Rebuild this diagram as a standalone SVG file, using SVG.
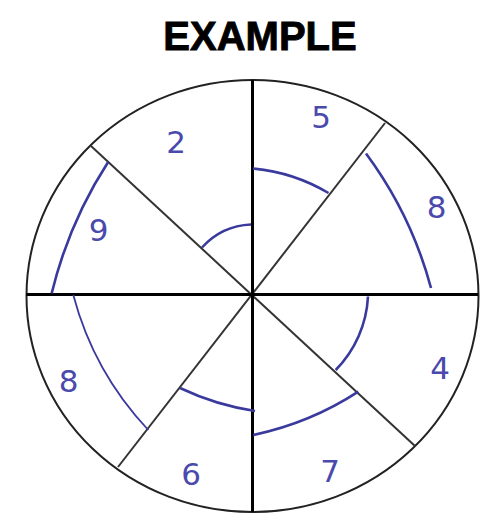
<svg xmlns="http://www.w3.org/2000/svg" width="489" height="514" viewBox="0 0 489 514">
  <style>
    .title { font-family: "Liberation Sans", Arial, sans-serif; font-weight: bold; font-size: 40px; fill: #000; stroke: #000; stroke-width: 0.9; text-anchor: middle; }
    .num { font-family: "DejaVu Sans", Verdana, sans-serif; font-size: 31px; fill: #4a4aac; text-anchor: middle; }
    .arc { fill: none; stroke: #3a3a9e; stroke-width: 2.6; stroke-linecap: butt; }
    .thin { stroke-width: 1.8; }
    .axis { stroke: #000; stroke-width: 3; }
    .diag { stroke: #333; stroke-width: 2; }
    .rim { fill: none; stroke: #222; stroke-width: 2; }
  </style>
  <rect width="489" height="514" fill="#fff"/>
  <text class="title" x="260" y="50">EXAMPLE</text>

  <g id="connectors">
    <ellipse class="rim" cx="252.5" cy="296" rx="226" ry="216"/>
    <line class="diag" x1="91" y1="146" x2="415" y2="446"/>
    <line class="diag" x1="385" y1="123" x2="118" y2="467"/>
    <line class="axis" x1="26.5" y1="294.5" x2="478" y2="294.5"/>
    <line class="axis" x1="252.5" y1="80" x2="252.5" y2="512"/>
  </g>

  <g id="sector-5">
    <path class="arc" d="M253,168.5 Q293.5,172.2 328.5,193"/>
    <text class="num" x="321" y="128">5</text>
  </g>
  <g id="sector-8-right">
    <path class="arc" d="M366,153.5 Q411.3,214.6 431,288"/>
    <text class="num" x="436.5" y="218">8</text>
  </g>
  <g id="sector-4">
    <path class="arc" d="M368,296.5 A113,113 0 0 1 335.7,370"/>
    <text class="num" x="440" y="379">4</text>
  </g>
  <g id="sector-7">
    <path class="arc" d="M358.3,391.7 Q309.9,423.2 253.3,435"/>
    <text class="num" x="330" y="482">7</text>
  </g>
  <g id="sector-6">
    <path class="arc" d="M255,411 Q215.8,405 180,388"/>
    <text class="num" x="191" y="485">6</text>
  </g>
  <g id="sector-8-left">
    <path class="arc thin" d="M73.3,295 Q93.7,372 148.3,430"/>
    <text class="num" x="68.5" y="392">8</text>
  </g>
  <g id="sector-9">
    <path class="arc" d="M51.7,293.3 Q68.8,222.7 108.3,161.7"/>
    <text class="num" x="98.5" y="241">9</text>
  </g>
  <g id="sector-2">
    <path class="arc" d="M202,247.5 A70,70 0 0 1 251,224.5"/>
    <text class="num" x="176" y="153">2</text>
  </g>
</svg>
